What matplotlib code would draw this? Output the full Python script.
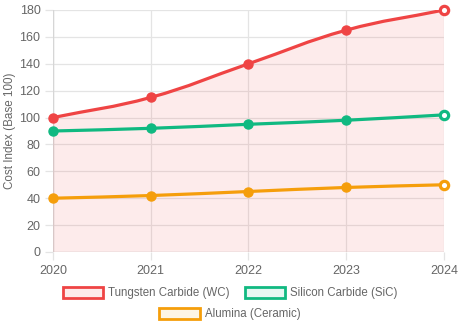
import numpy as np
import matplotlib
matplotlib.use("Agg")
import matplotlib.pyplot as plt
from matplotlib.path import Path
from matplotlib.patches import PathPatch, Patch

plt.rcParams['font.family'] = ['Liberation Sans', 'DejaVu Sans']

years = ["2020", "2021", "2022", "2023", "2024"]
tungsten = [100, 115, 140, 165, 180]
silicon = [90, 92, 95, 98, 102]
alumina = [40, 42, 45, 48, 50]

series = [
    ("Tungsten Carbide (WC)", tungsten, "#ef4444", (239/255, 68/255, 68/255, 0.1), True),
    ("Silicon Carbide (SiC)", silicon, "#10b981", (16/255, 185/255, 129/255, 0.1), False),
    ("Alumina (Ceramic)", alumina, "#f59e0b", (245/255, 158/255, 11/255, 0.1), False),
]

W, H = 460, 330
fig = plt.figure(figsize=(W/100, H/100), dpi=100)
L, R, T, B = 53, 444, 10, 252
ax = fig.add_axes([L/W, 1-B/H, (R-L)/W, (B-T)/H])
ax.set_xlim(0, len(years)-1)
ax.set_ylim(0, 180)
ax.set_yticks(range(0, 181, 20))
ax.set_xticks(range(len(years)))
ax.set_xticklabels(years)
grid = "#e4e4e4"
ax.grid(True, color=grid, lw=0.9)
ax.set_axisbelow(True)
for s in ax.spines.values():
    s.set_visible(False)
ax.axhline(0, color="#d6d6d6", lw=1, zorder=1)
ax.axvline(0, color="#d6d6d6", lw=1, zorder=1)
ax.tick_params(axis='both', colors=grid, labelcolor="#666666", labelsize=9, length=6, width=0.9, pad=3)
ax.set_ylabel("Cost Index (Base 100)", color="#666666", fontsize=8.4)
ax.yaxis.set_label_coords((16 - L)/(R - L), 0.5)

pxw, pxh = (R-L)/(len(years)-1), (B-T)/180.0

def bezier_path(xs, ys, tension=0.4):
    P = np.column_stack([np.array(xs, float)*pxw, np.array(ys, float)*pxh])
    n = len(P)
    cps = []
    for i in range(n):
        prev = P[max(i-1, 0)]
        cur = P[i]
        nxt = P[min(i+1, n-1)]
        d01 = np.hypot(*(cur-prev))
        d12 = np.hypot(*(nxt-cur))
        s01 = d01/(d01+d12) if d01+d12 else 0
        s12 = d12/(d01+d12) if d01+d12 else 0
        fa, fb = tension*s01, tension*s12
        cps.append((cur - fa*(nxt-prev), cur + fb*(nxt-prev)))
    verts = [P[0]]
    codes = [Path.MOVETO]
    for i in range(n-1):
        verts += [cps[i][1], cps[i+1][0], P[i+1]]
        codes += [Path.CURVE4]*3
    verts = np.array(verts)
    verts[:, 0] /= pxw
    verts[:, 1] /= pxh
    return verts, codes

xs = list(range(len(years)))
for name, vals, col, fill, dofill in series:
    verts, codes = bezier_path(xs, vals)
    if dofill:
        fv = np.vstack([verts, [[xs[-1], 0], [xs[0], 0], verts[0]]])
        fc = codes + [Path.LINETO, Path.LINETO, Path.CLOSEPOLY]
        ax.add_patch(PathPatch(Path(fv, fc), facecolor=fill, edgecolor='none', zorder=2))
    ax.add_patch(PathPatch(Path(verts, codes), facecolor='none', edgecolor=col, lw=2.3, zorder=3, capstyle='round'))
    ax.plot(xs[:-1], vals[:-1], 'o', color=col, ms=6.5, zorder=4, clip_on=False)
    ax.plot(xs[-1:], vals[-1:], 'o', color=col, mfc='white', mew=2.3, ms=6, zorder=4, clip_on=False)

handles = [Patch(facecolor=f, edgecolor=c, lw=2, label=n) for n, v, c, f, d in series]
kw = dict(frameon=False, fontsize=8.3, handlelength=3.5, handleheight=1.1,
          handletextpad=0.45, columnspacing=1.3, labelcolor="#666666", loc='center')
fig.legend(handles=handles[:2], ncol=2, bbox_to_anchor=(0.5, 1-293/H), **kw)
fig.legend(handles=handles[2:], ncol=1, bbox_to_anchor=(0.5, 1-314/H), **kw)

fig.savefig("out.png", dpi=100)
